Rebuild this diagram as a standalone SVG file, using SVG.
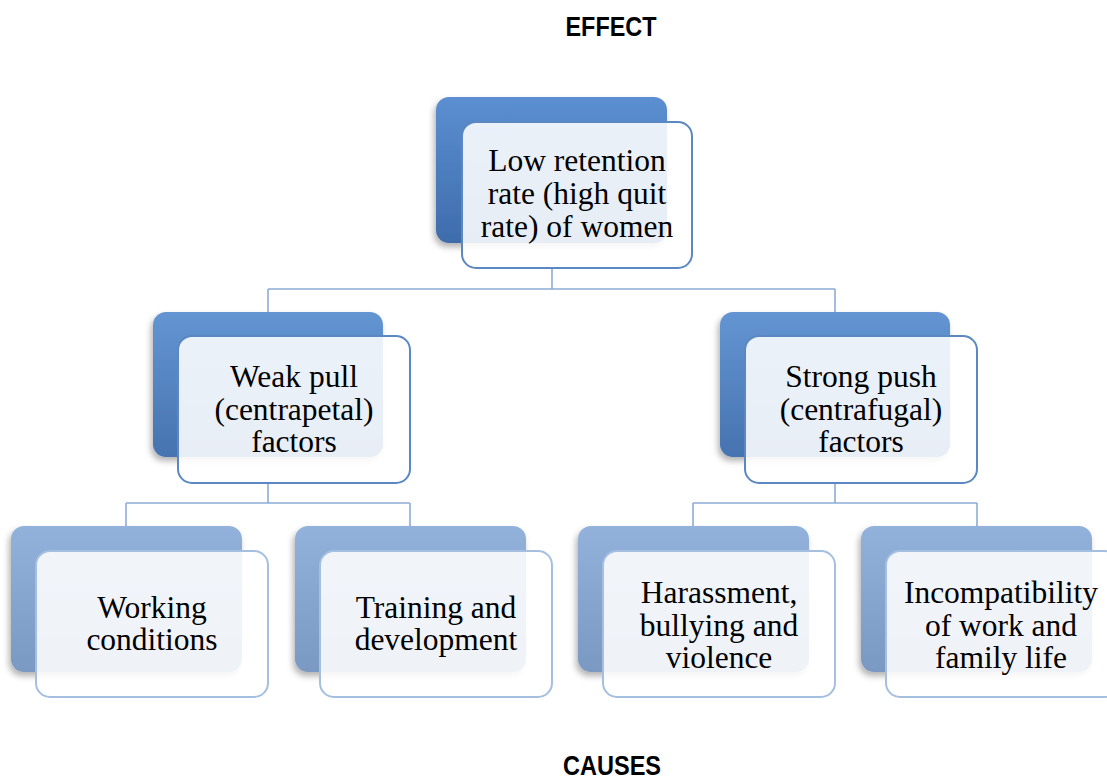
<svg xmlns="http://www.w3.org/2000/svg" width="1107" height="780" viewBox="0 0 1107 780">
<defs>
<linearGradient id="gDark" x1="0" y1="0" x2="0" y2="1"><stop offset="0" stop-color="#5b8fd1"/><stop offset="1" stop-color="#3e6cab"/></linearGradient>
<linearGradient id="gMid" x1="0" y1="0" x2="0" y2="1"><stop offset="0" stop-color="#6395d2"/><stop offset="1" stop-color="#4673b0"/></linearGradient>
<linearGradient id="gLight" x1="0" y1="0" x2="0" y2="1"><stop offset="0" stop-color="#93b2db"/><stop offset="1" stop-color="#7a99c2"/></linearGradient>
<filter id="sh" x="-20%" y="-20%" width="140%" height="140%"><feDropShadow dx="-2" dy="4" stdDeviation="3" flood-color="#000" flood-opacity="0.3"/></filter>
<style>
.back{filter:url(#sh)}
.front{fill:#ffffff;fill-opacity:0.88;stroke-width:2}
.fd{stroke:#5b87c2}
.fl{stroke:#a5bfe0}
.t{font-family:"Liberation Serif","Times New Roman",serif;font-size:31.5px;fill:#000;text-anchor:middle}
.h{font-family:"Liberation Sans Narrow","Liberation Sans",Arial,sans-serif;font-weight:bold;font-size:27px;fill:#000;text-anchor:middle}
.c{fill:none;stroke:#8eacd8;stroke-width:1.6}
</style>
</defs>
<rect width="1107" height="780" fill="#fff"/>
<text class="h" x="611" y="36" textLength="91" lengthAdjust="spacingAndGlyphs">EFFECT</text>
<text class="h" x="612" y="775" textLength="98" lengthAdjust="spacingAndGlyphs">CAUSES</text>
<g id="connectors">
<path class="c" d="M552 268 V289 M268 289 H835 M268 289 V312 M835 289 V312"/>
<path class="c" d="M268 483 V503 M126 503 H410 M126 503 V526 M410 503 V526"/>
<path class="c" d="M835 483 V503 M693 503 H977 M693 503 V526 M977 503 V526"/>
</g>
<g id="n-effect">
<rect class="back" x="436" y="97" width="231" height="146" rx="13" fill="url(#gDark)"/>
<rect class="front fd" x="462" y="122" width="230" height="146" rx="14"/>
<text class="t" x="577" y="171">Low retention</text>
<text class="t" x="577" y="204">rate (high quit</text>
<text class="t" x="577" y="237">rate) of women</text>
</g>
<g id="n-pull">
<rect class="back" x="153" y="312" width="230" height="145" rx="13" fill="url(#gMid)"/>
<rect class="front fd" x="178" y="336" width="232" height="147" rx="14"/>
<text class="t" x="294" y="387">Weak pull</text>
<text class="t" x="294" y="420">(centrapetal)</text>
<text class="t" x="294" y="452">factors</text>
</g>
<g id="n-push">
<rect class="back" x="720" y="312" width="230" height="145" rx="13" fill="url(#gMid)"/>
<rect class="front fd" x="745" y="336" width="232" height="147" rx="14"/>
<text class="t" x="861" y="387">Strong push</text>
<text class="t" x="861" y="420">(centrafugal)</text>
<text class="t" x="861" y="452">factors</text>
</g>
<g id="n-working">
<rect class="back" x="11" y="526" width="231" height="146" rx="13" fill="url(#gLight)"/>
<rect class="front fl" x="36" y="551" width="232" height="146" rx="14"/>
<text class="t" x="152" y="618">Working</text>
<text class="t" x="152" y="650">conditions</text>
</g>
<g id="n-training">
<rect class="back" x="295" y="526" width="231" height="146" rx="13" fill="url(#gLight)"/>
<rect class="front fl" x="320" y="551" width="232" height="146" rx="14"/>
<text class="t" x="436" y="618">Training and</text>
<text class="t" x="436" y="650">development</text>
</g>
<g id="n-harassment">
<rect class="back" x="578" y="526" width="231" height="146" rx="13" fill="url(#gLight)"/>
<rect class="front fl" x="603" y="551" width="232" height="146" rx="14"/>
<text class="t" x="719" y="603">Harassment,</text>
<text class="t" x="719" y="636">bullying and</text>
<text class="t" x="719" y="668">violence</text>
</g>
<g id="n-incompat">
<rect class="back" x="861" y="526" width="231" height="146" rx="13" fill="url(#gLight)"/>
<rect class="front fl" x="886" y="551" width="232" height="146" rx="14"/>
<text class="t" x="1001" y="603">Incompatibility</text>
<text class="t" x="1001" y="636">of work and</text>
<text class="t" x="1001" y="668">family life</text>
</g>
</svg>
